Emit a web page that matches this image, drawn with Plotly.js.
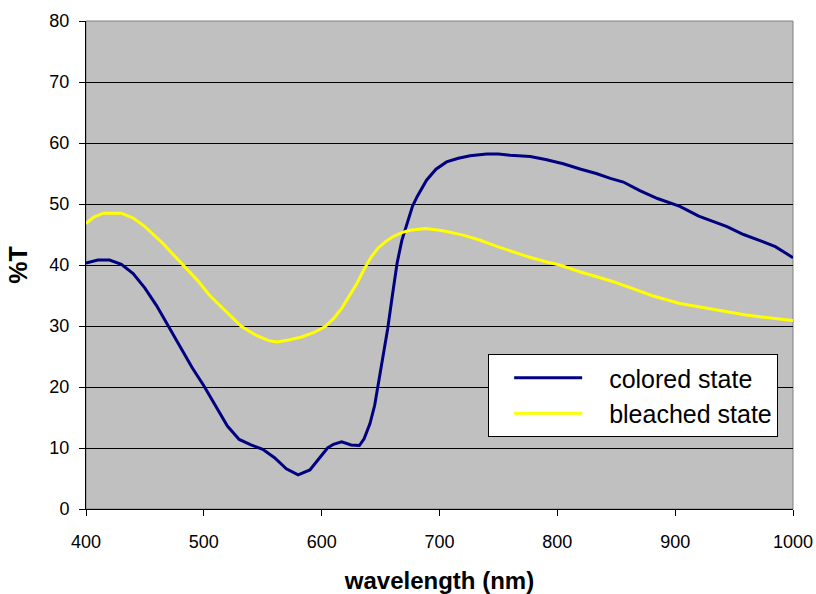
<!DOCTYPE html>
<html>
<head>
<meta charset="utf-8">
<script src="https://cdn.plot.ly/plotly-3.0.1.min.js"></script>
<style>html,body{margin:0;padding:0;background:#fff;}#chart{width:816px;height:594px;}</style>
</head>
<body>
<div id="chart"></div>
<script>
// wavelength (nm) and %T, colored state
var coloredWavelength = [400,410,420,430,440,450,460,470,480,490,500,510,520,530,540,550,560,570,580,590,600,605,610,617,625,632,636,641,645,648,652,656,660,664,668,672,677,681,689,697,706,716,726,740,750,760,777,790,805,820,833,845,856,870,885,904,920,944,958,972,985,995,1000];
var coloredT = [40.3,40.8,40.8,40.1,38.6,36.2,33.3,29.9,26.5,23.2,20.2,16.8,13.6,11.4,10.5,9.8,8.4,6.6,5.6,6.4,8.7,10.0,10.6,11.0,10.5,10.4,11.5,14.0,17.0,20.3,25.0,29.5,35.0,40.3,44.0,46.5,49.6,51.2,53.9,55.7,56.9,57.5,57.9,58.2,58.2,58.0,57.8,57.3,56.6,55.7,55.0,54.2,53.6,52.2,50.9,49.6,48.0,46.3,45.0,44.0,43.0,41.8,41.2];
// wavelength (nm) and %T, bleached state
var bleachedWavelength = [400,407,415,430,440,450,456,465,475,484,495,505,512,522,532,545,555,562,572,583,593,603,610,617,624,630,636,642,648,654,660,668,675,688,700,706,720,734,748,762,776,791,802,819,833,847,860,880,904,925,944,960,972,985,1000];
var bleachedT = [46.8,47.9,48.5,48.5,47.7,46.3,45.2,43.6,41.5,39.7,37.4,35.0,33.7,31.8,29.9,28.4,27.6,27.4,27.7,28.2,28.9,29.9,31.2,32.9,35.2,37.0,39.3,41.3,42.8,43.8,44.6,45.3,45.7,46.0,45.7,45.5,44.9,44.1,43.1,42.2,41.3,40.5,40.0,38.9,38.1,37.3,36.4,35.0,33.7,33.0,32.3,31.8,31.5,31.2,30.9];
var seriesNames = ['colored state','bleached state'];
var xTicks = [400,500,600,700,800,900,1000];
var yTicks = [0,10,20,30,40,50,60,70,80];

var font = 'Liberation Sans, Arial, sans-serif';
var traces = [
  {x: coloredWavelength, y: coloredT, name: seriesNames[0], type: 'scatter', mode: 'lines',
   line: {color: '#000080', width: 3}},
  {x: bleachedWavelength, y: bleachedT, name: seriesNames[1], type: 'scatter', mode: 'lines',
   line: {color: '#FFFF00', width: 3}}
];
var layout = {
  width: 816, height: 594,
  margin: {l: 86, r: 23, t: 21, b: 85},
  paper_bgcolor: '#ffffff',
  plot_bgcolor: '#C0C0C0',
  font: {family: font, color: '#000', size: 18},
  showlegend: true,
  legend: {
    x: 0.979, xanchor: 'right', y: 0.3176, yanchor: 'top',
    bgcolor: '#ffffff', bordercolor: '#000', borderwidth: 1,
    font: {family: font, size: 25, color: '#000'},
    itemwidth: 110, tracegroupgap: 0
  },
  xaxis: {
    range: [400, 1000], tickvals: xTicks, ticks: 'outside', ticklen: 6, tickcolor: '#000',
    showgrid: false, zeroline: false, showline: true, linecolor: '#000', linewidth: 1,
    ticklabelstandoff: 10,
    tickfont: {family: font, size: 18},
    title: {text: '<b>wavelength (nm)</b>', font: {family: font, size: 24}, standoff: 24}
  },
  yaxis: {
    range: [0, 80], tickvals: yTicks, ticks: 'outside', ticklen: 6, tickcolor: '#000',
    showgrid: true, gridcolor: '#000', gridwidth: 1, zeroline: false,
    showline: true, linecolor: '#000', linewidth: 1,
    ticklabelstandoff: 6,
    tickfont: {family: font, size: 18},
    title: {text: '<b>%T</b>', font: {family: font, size: 25}, standoff: 14}
  },
  shapes: [{type: 'rect', xref: 'paper', yref: 'paper', x0: 0, x1: 1, y0: 0, y1: 1,
            line: {color: '#808080', width: 1}, layer: 'below'}]
};
function shortenLegendLines() {
  var paths = document.querySelectorAll('#chart .legend .legendlines path');
  paths.forEach(function (p) { p.setAttribute('d', 'M25,0h68'); });
}
Plotly.newPlot('chart', traces, layout, {displayModeBar: false, staticPlot: true}).then(function (gd) {
  shortenLegendLines();
  gd.on('plotly_afterplot', shortenLegendLines);
});
</script>
</body>
</html>
